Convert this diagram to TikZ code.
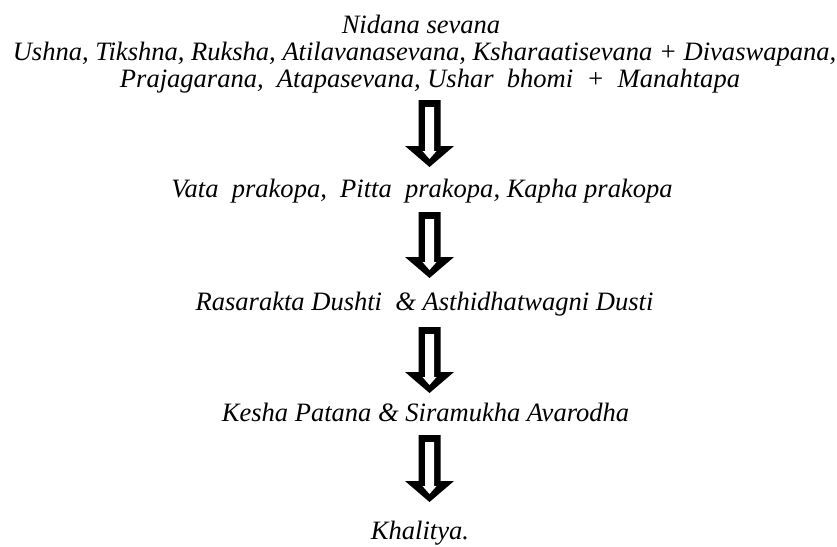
\documentclass[tikz,border=0pt]{standalone}
\usepackage{fontspec}
\setmainfont{Liberation Serif}
\tikzset{
  txt/.style={anchor=base, inner sep=0pt,
    font=\fontsize{19.9}{23}\selectfont\itshape},
}
% hollow down arrow: #1 centre x, #2 top y, #3 tip y (pixel units, y downwards)
\newcommand{\hollowdown}[3]{%
  \pgfmathsetmacro{\hb}{#3-21}%
  \fill[black] (#1-11,#2) -- (#1+11,#2) -- (#1+11,\hb) -- (#1+24.5,\hb) -- (#1,#3)
    -- (#1-24.5,\hb) -- (#1-11,\hb) -- cycle;
  \fill[white] (#1-4.5,#2+7) -- (#1+4.5,#2+7) -- (#1+4.5,\hb+5) -- (#1+7,\hb+5)
    -- (#1,#3-8) -- (#1-7,\hb+5) -- (#1-4.5,\hb+5) -- cycle;
}
\begin{document}
\begin{tikzpicture}[x=0.75pt, y=-0.75pt]
\useasboundingbox[fill=white] (0,0) rectangle (837,546);
\node[txt] (l1) at (421,33) {Nidana sevana};
\node[txt] (l2) at (424.5,60) {Ushna, Tikshna, Ruksha, Atilavanasevana, Ksharaatisevana + Divaswapana,};
\node[txt] (l3) at (430,87) {Prajagarana,\ \ Atapasevana, Ushar\ \ bhomi\ \ +\ \ Manahtapa};
\node[txt] (vata) at (422,197) {Vata\ \ prakopa,\ \ Pitta\ \ prakopa, Kapha prakopa};
\node[txt] (rasa) at (424.5,310) {Rasarakta Dushti\ \ \& Asthidhatwagni Dusti};
\node[txt] (kesha) at (425.5,421) {Kesha Patana \& Siramukha Avarodha};
\node[txt] (khal) at (420,539) {Khalitya.};
\hollowdown{429.5}{100}{167}
\hollowdown{429.5}{212}{278}
\hollowdown{429.5}{327}{393}
\hollowdown{429.5}{435}{502}
\end{tikzpicture}
\end{document}
